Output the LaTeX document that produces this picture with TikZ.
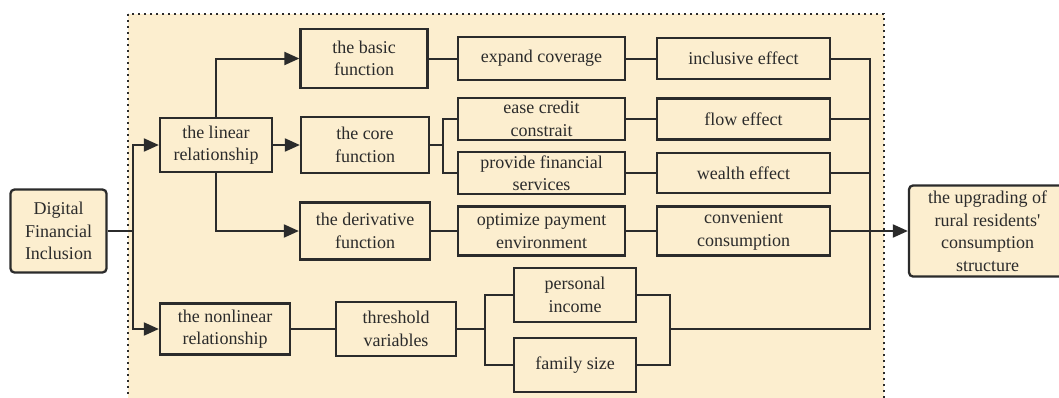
\documentclass[tikz,border=0pt]{standalone}
\usepackage{fontspec}
\setmainfont{Liberation Serif}
\usetikzlibrary{arrows.meta}
\definecolor{bg}{HTML}{FCEECF}
\definecolor{ink}{HTML}{2B2B2B}

\begin{document}
\begin{tikzpicture}[x=1pt,y=-1pt,
    box/.style={draw=ink,fill=bg,line width=2.3pt,align=center,inner sep=0pt,
      font=\fontsize{18}{22.5}\selectfont,text=ink},
    rbox/.style={box,rounded corners=4pt},
    line/.style={draw=ink,line width=2pt},
    arr/.style={line,-{Triangle[length=15pt,width=13pt]}}]
    \useasboundingbox (0,0) rectangle (1059,397);
    \draw[ink,fill=bg,line width=2.2pt,dash pattern=on 2.2pt off 3.8pt] (128,14) rectangle (884,410);

    \node[rbox,minimum width=96,minimum height=83] (dfi) at (58.5,231) {Digital\\Financial\\Inclusion};
    \node[box,minimum width=112,minimum height=54] (lin) at (216,145) {the linear\\relationship};
    \node[box,minimum width=130,minimum height=51] (non) at (225,329) {the nonlinear\\relationship};

    \node[box,minimum width=127,minimum height=59] (f1) at (364,58.5) {the basic\\function};
    \node[box,minimum width=128,minimum height=56] (f2) at (365,145) {the core\\function};
    \node[box,minimum width=130,minimum height=57] (f3) at (365,231) {the derivative\\function};

    \node[box,minimum width=167,minimum height=43] (c1) at (541.5,58.5) {expand coverage};
    \node[box,minimum width=167,minimum height=42] (c2) at (541.5,119) {ease credit\\constrait};
    \node[box,minimum width=167,minimum height=42] (c3) at (541.5,173) {provide financial\\services};
    \node[box,minimum width=167,minimum height=49] (c4) at (541.5,231) {optimize payment\\environment};

    \node[box,minimum width=173,minimum height=41] (e1) at (743.5,58.5) {inclusive effect};
    \node[box,minimum width=173,minimum height=41] (e2) at (743.5,119) {flow effect};
    \node[box,minimum width=173,minimum height=40] (e3) at (743.5,173) {wealth effect};
    \node[box,minimum width=173,minimum height=49] (e4) at (743.5,231) {convenient\\consumption};

    \node[box,minimum width=120,minimum height=54] (t) at (396,329) {threshold\\variables};
    \node[box,minimum width=122,minimum height=54] (p1) at (575,295) {personal\\income};
    \node[box,minimum width=122,minimum height=54] (p2) at (575,365) {family size};

    \node[rbox,minimum width=157,minimum height=91] (up) at (987.5,231) {the upgrading of\\rural residents\textquotesingle\\consumption\\structure};

    \coordinate (j0) at (133,231);
    \coordinate (j2) at (443,145);
    \coordinate (j3) at (870,231);
    \coordinate (j4) at (485,329);
    \coordinate (j5) at (669.5,329);

    \draw[line] (dfi) -- (j0);
    \draw[arr] (j0) |- (lin);
    \draw[arr] (j0) |- (non);
    \draw[arr] (lin) |- (f1);
    \draw[arr] (lin) -- (f2);
    \draw[arr] (lin) |- (f3);

    \draw[line] (f1) -- (c1);
    \draw[line] (f2) -- (j2);
    \draw[line] (j2) |- (c2);
    \draw[line] (j2) |- (c3);
    \draw[line] (f3) -- (c4);

    \draw[line] (c1) -- (e1);
    \draw[line] (c2) -- (e2);
    \draw[line] (c3) -- (e3);
    \draw[line] (c4) -- (e4);

    \draw[line] (non) -- (t);
    \draw[line] (t) -- (j4);
    \draw[line] (j4) |- (p1);
    \draw[line] (j4) |- (p2);
    \draw[line] (p1) -| (j5);
    \draw[line] (p2) -| (j5);

    \draw[line] (e1) -| (j3);
    \draw[line] (e2) -| (j3);
    \draw[line] (e3) -| (j3);
    \draw[line] (e4) -- (j3);
    \draw[line] (j5) -| (j3);
    \draw[arr] (j3) -- (up);
\end{tikzpicture}
\end{document}
